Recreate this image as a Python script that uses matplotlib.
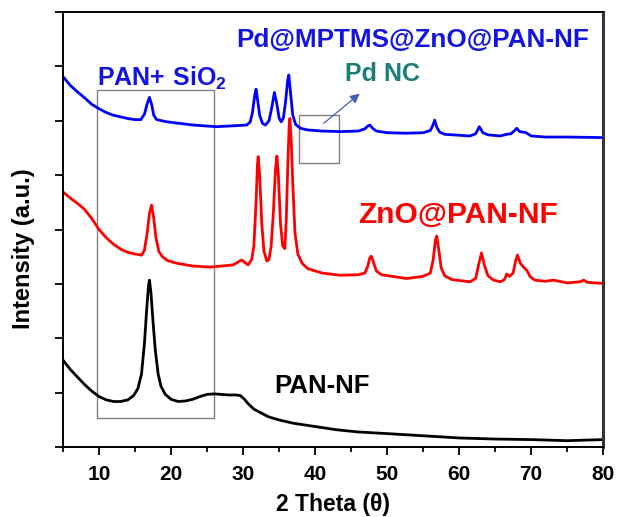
import matplotlib
matplotlib.use('Agg')
import matplotlib.pyplot as plt
from matplotlib.patches import Rectangle
from matplotlib.ticker import MultipleLocator

plt.rcParams['font.family'] = ['Liberation Sans', 'DejaVu Sans']
plt.rcParams['mathtext.fontset'] = 'custom'
plt.rcParams['mathtext.rm'] = 'Liberation Sans'
plt.rcParams['mathtext.bf'] = 'Liberation Sans:bold'

# PAN-NF (black)
pan_x = [5, 6, 7, 8, 9, 10, 11, 12, 13, 14, 14.8, 15.4, 15.9, 16.3, 16.6, 16.85, 17.0, 17.2, 17.5,
         17.8, 18.2, 18.6, 19.2, 20, 21, 22, 23, 24, 25, 26, 27, 28, 29, 29.6, 30.2, 30.7, 31.5,
         32.5, 33.5, 35, 37, 40, 43, 46, 50, 55, 60, 65, 70, 75, 80]
pan_y = [1.60, 1.43, 1.29, 1.15, 1.03, 0.93, 0.87, 0.84, 0.84, 0.87, 0.95, 1.08, 1.35, 1.90, 2.50,
         2.95, 3.07, 2.85, 2.30, 1.80, 1.35, 1.12, 0.97, 0.88, 0.84, 0.85, 0.88, 0.93, 0.97, 0.98,
         0.97, 0.96, 0.96, 0.95, 0.88, 0.80, 0.70, 0.63, 0.56, 0.50, 0.44, 0.38, 0.32, 0.28, 0.25,
         0.21, 0.17, 0.15, 0.14, 0.12, 0.14]

# ZnO@PAN-NF (red)
zno_x = [5, 6, 7, 8, 9, 10, 11, 12, 13, 14, 15, 15.9, 16.3, 16.7, 17.0, 17.3, 17.6, 17.9, 18.3,
         18.8, 19.5, 20.8, 23, 25.4, 28.6, 29.8, 30.7, 31.2, 31.5, 31.8, 32.0, 32.1, 32.3, 32.6,
         32.9, 33.3, 33.6, 33.9, 34.2, 34.5, 34.7, 34.9, 35.2, 35.5, 35.8, 36.0, 36.2, 36.4, 36.5,
         36.7, 36.9, 37.2, 37.6, 38.2, 39, 41, 43.5, 46, 46.9, 47.3, 47.6, 47.8, 48.1, 48.5, 49.2,
         52.7, 55, 56.0, 56.4, 56.7, 56.9, 57.2, 57.5, 58.0, 59, 61.5, 62.3, 62.7, 63.1, 63.5, 64.0,
         64.8, 65.7, 66.3, 66.6, 67.0, 67.5, 67.8, 68.1, 68.5, 69.0, 69.4, 69.9, 70.5, 72, 73.1, 75,
         76.8, 77.3, 77.8, 80]
zno_y = [4.69, 4.58, 4.48, 4.37, 4.20, 4.00, 3.85, 3.73, 3.64, 3.58, 3.55, 3.53, 3.62, 3.95, 4.30,
         4.45, 4.20, 3.85, 3.60, 3.50, 3.43, 3.38, 3.33, 3.31, 3.35, 3.44, 3.35, 3.45, 3.70, 4.50,
         5.20, 5.34, 5.00, 4.10, 3.60, 3.42, 3.45, 3.70, 4.30, 5.10, 5.35, 5.00, 4.10, 3.70, 3.65,
         4.20, 5.15, 5.90, 6.04, 5.60, 4.85, 3.95, 3.55, 3.38, 3.28, 3.20, 3.16, 3.17, 3.20, 3.32,
         3.48, 3.51, 3.40, 3.24, 3.17, 3.10, 3.14, 3.20, 3.45, 3.80, 3.88, 3.60, 3.30, 3.15, 3.08,
         3.04, 3.10, 3.35, 3.57, 3.35, 3.15, 3.07, 3.04, 3.08, 3.18, 3.14, 3.20, 3.40, 3.53, 3.38,
         3.30, 3.25, 3.13, 3.07, 3.05, 3.07, 3.02, 3.04, 3.07, 3.03, 3.01]

# Pd@MPTMS@ZnO@PAN-NF (blue)
pd_x = [5, 6, 7, 8, 9, 10, 11, 12, 13, 14, 15, 15.8, 16.3, 16.7, 17.0, 17.3, 17.6, 18.0, 19.4,
        23.1, 26.3, 30.5, 31.0, 31.3, 31.6, 31.8, 32.0, 32.3, 32.7, 33.1, 33.6, 34.0, 34.35, 34.7,
        35.0, 35.3, 35.6, 35.9, 36.2, 36.35, 36.6, 36.9, 37.3, 38.0, 39, 41, 43.5, 46.0, 46.9,
        47.3, 47.6, 48.0, 48.5, 50, 52.7, 55, 56.0, 56.3, 56.6, 56.9, 57.3, 58, 61.5, 62.3, 62.8,
        63.3, 64, 65.7, 66.6, 67.2, 67.7, 68.0, 68.4, 68.9, 69.3, 70.0, 72, 75, 80]
pd_y = [6.81, 6.65, 6.53, 6.42, 6.30, 6.22, 6.15, 6.10, 6.07, 6.04, 6.02, 6.02, 6.12, 6.32, 6.43,
        6.30, 6.10, 6.02, 5.98, 5.92, 5.89, 5.92, 5.98, 6.15, 6.45, 6.58, 6.40, 6.10, 5.95, 5.92,
        6.00, 6.25, 6.52, 6.30, 6.05, 5.98, 6.05, 6.35, 6.75, 6.84, 6.50, 6.10, 5.93, 5.86, 5.83,
        5.81, 5.80, 5.81, 5.85, 5.90, 5.92, 5.86, 5.81, 5.78, 5.77, 5.78, 5.82, 5.90, 6.01, 5.88,
        5.79, 5.75, 5.72, 5.76, 5.89, 5.78, 5.74, 5.72, 5.75, 5.76, 5.82, 5.86, 5.80, 5.79, 5.78,
        5.72, 5.70, 5.70, 5.69]

fig = plt.figure(figsize=(6.18, 5.17), dpi=100)
ax = fig.add_axes([0.102, 0.135, 0.874, 0.842])

ax.plot(pan_x, pan_y, color='black', lw=2.0)
ax.plot(zno_x, zno_y, color='#ff0000', lw=2.0)
ax.plot(pd_x, pd_y, color='#0000ff', lw=2.0)

# marked regions
ax.add_patch(Rectangle((9.68, 0.53), 26.0 - 9.68, 6.56 - 0.53, fill=False, ec='#808080', lw=1.0))
ax.add_patch(Rectangle((37.8, 5.23), 43.3 - 37.8, 6.10 - 5.23, fill=False, ec='#808080', lw=1.0))
ax.annotate('', xy=(46.5, 6.53), xytext=(40.9, 5.92),
            arrowprops=dict(arrowstyle='-|>', color='#4a5ab8', lw=0.9, mutation_scale=14))

ax.text(53.5, 7.48, 'Pd@MPTMS@ZnO@PAN-NF', color='#1414e0', fontsize=18.8, fontweight='bold',
        ha='center', va='center')
ax.text(9.72, 6.64, r'$\mathbf{PAN{+}\ SiO_2}$', color='#1414e0', fontsize=18, ha='left', va='baseline')
ax.text(49.3, 6.86, 'Pd NC', color='#1b7d78', fontsize=18, fontweight='bold', ha='center', va='center')
ax.text(59.9, 4.26, 'ZnO@PAN-NF', color='#ff0000', fontsize=21.5, fontweight='bold',
        ha='center', va='center')
ax.text(41.0, 1.12, 'PAN-NF', color='black', fontsize=18.5, fontweight='bold', ha='center', va='center')

ax.set_xlim(5, 80)
ax.set_ylim(0, 8)
ax.xaxis.set_major_locator(MultipleLocator(10))
ax.xaxis.set_minor_locator(MultipleLocator(5))
ax.yaxis.set_major_locator(MultipleLocator(1))
ax.set_yticklabels([])
ax.tick_params(axis='x', which='major', direction='out', length=6, width=1.3, labelsize=15, pad=7)
ax.tick_params(axis='x', which='minor', direction='out', length=3.5, width=1.3)
ax.tick_params(axis='y', which='major', direction='out', length=6, width=1.3)
for lab in ax.get_xticklabels():
    lab.set_fontweight('bold')
for s in ax.spines.values():
    s.set_linewidth(1.4)
ax.spines['right'].set_linewidth(2.2)
ax.spines['right'].set_color('#333333')

ax.set_xlabel('2 Theta (\u03b8)', fontsize=16.5, fontweight='bold')
ax.set_ylabel('Intensity (a.u.)', fontsize=17, fontweight='bold')
ax.xaxis.set_label_coords(0.5, -0.105)
ax.yaxis.set_label_coords(-0.052, 0.455)

plt.savefig('out.png', dpi=100)
